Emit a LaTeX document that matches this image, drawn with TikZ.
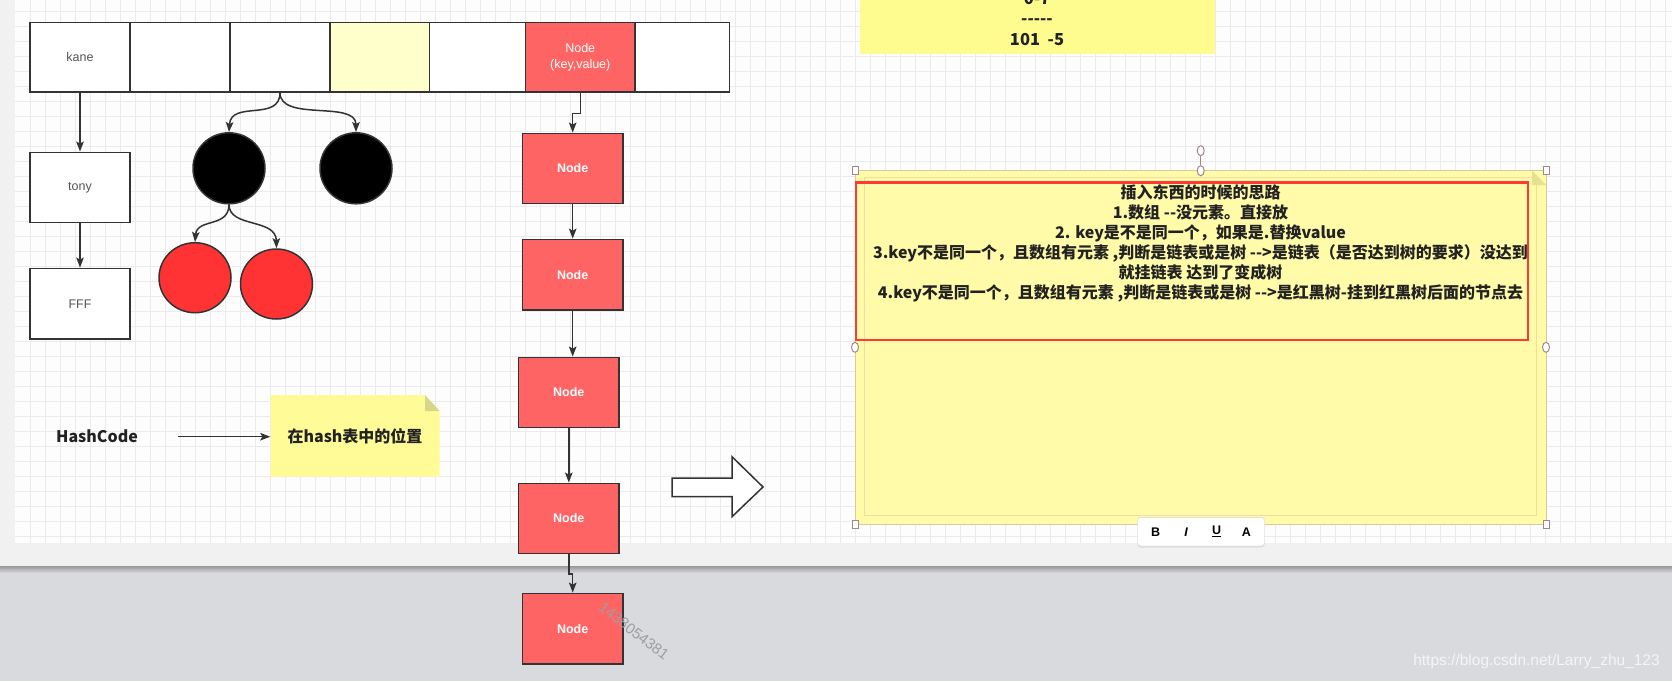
\documentclass[tikz,border=0pt]{standalone}
\usepackage{fontspec}
\setsansfont{Liberation Sans}
\newfontfamily\cjk{Noto Sans CJK SC}
\usetikzlibrary{arrows.meta,shapes.geometric,shadows}
\definecolor{linec}{HTML}{333333}
\definecolor{labelc}{HTML}{555555}
\definecolor{cellyellow}{HTML}{FFFFCC}
\definecolor{nodered}{HTML}{FF6464}
\definecolor{brightred}{HTML}{FF3333}
\definecolor{noteyellow}{HTML}{FFFBA8}
\definecolor{notefold}{HTML}{D8D68A}
\definecolor{noteedge}{HTML}{D9C99B}
\definecolor{noteinner}{HTML}{EEDFA0}
\definecolor{selred}{HTML}{FF3838}
\definecolor{handlec}{HTML}{A08888}
\definecolor{canvasc}{HTML}{FDFDFD}
\definecolor{gridc}{HTML}{EBEBEB}
\definecolor{marginc}{HTML}{F1F1F1}
\definecolor{bgdark}{HTML}{D9DADE}
\definecolor{textc}{HTML}{222222}
\tikzset{
  conn/.style={draw=linec, line width=1.5pt, -{Stealth[length=10pt,width=7.5pt,inset=2pt]}},
  cellbox/.style={draw=linec, line width=1.5pt, fill=white, minimum height=69.3pt, inner sep=0pt,
    font=\sffamily\fontsize{12.5}{15}\selectfont, text=labelc},
  nodebox/.style={draw=linec, line width=1.5pt, fill=nodered, inner sep=0pt,
    font=\sffamily\bfseries\fontsize{12.5}{16}\selectfont, text=white, align=center},
  blackball/.style={ellipse, draw=linec, line width=1.5pt, fill=black, minimum width=72pt, minimum height=71pt, inner sep=0pt},
  redball/.style={ellipse, draw=linec, line width=1.5pt, fill=brightred, minimum width=72pt, minimum height=70pt, inner sep=0pt},
  boldtxt/.style={font=\cjk\bfseries\fontsize{16}{20}\selectfont, text=textc, inner sep=0pt},
  notetxt/.style={font=\cjk\bfseries\fontsize{16}{20}\selectfont, text=textc, align=center, inner sep=0pt},
  handlesq/.style={draw=handlec, line width=1pt, fill=white, minimum width=6pt, minimum height=8pt, inner sep=0pt},
  handlecirc/.style={ellipse, draw=handlec, line width=1pt, fill=white, minimum width=7pt, minimum height=10pt, inner sep=0pt},
  tbletter/.style={font=\sffamily\bfseries\fontsize{12.5}{15}\selectfont, text=black, inner sep=0pt},
}
\begin{document}
\begin{tikzpicture}[x=1pt,y=-1pt]
\useasboundingbox (0,0) rectangle (1672,681);
\clip (0,0) rectangle (1672,681);
% ---------- background ----------
\fill[bgdark] (0,567) rectangle (1672,681);
\fill[marginc] (0,0) rectangle (1672,567);
\shade[top color=black!40, bottom color=bgdark] (0,566) rectangle (1672,573);
\fill[canvasc] (15,0) rectangle (1672,543.3);
\begin{scope}
\clip (15,0) rectangle (1672,543.3);
\foreach \gx in {30,45,...,1670} \draw[gridc, line width=1pt] (\gx,0) -- (\gx,543.3);
\foreach \gy in {11.7,26.7,...,540} \draw[gridc, line width=1pt] (15,\gy) -- (1672,\gy);
\end{scope}

% ---------- array of cells ----------
\node[cellbox, minimum width=100pt] (c1) at (80,57.3) {kane};
\node[cellbox, minimum width=100pt] (c2) at (180,57.3) {};
\node[cellbox, minimum width=100pt] (c3) at (280,57.3) {};
\node[cellbox, minimum width=99.5pt, fill=cellyellow] (c4) at (379.75,57.3) {};
\node[cellbox, minimum width=96pt] (c5) at (477.5,57.3) {};
\node[nodebox, minimum width=109.5pt, minimum height=69.3pt, font=\sffamily\fontsize{12.5}{16.5}\selectfont] (c6) at (580.25,57.3) {Node\\(key,value)};
\node[cellbox, minimum width=94.5pt] (c7) at (682.25,57.3) {};

% ---------- kane chain ----------
\node[cellbox, minimum width=100pt, minimum height=70.4pt] (tony) at (80,187.5) {tony};
\node[cellbox, minimum width=100pt, minimum height=70.7pt] (fff) at (80,303.7) {FFF};
\draw[conn] (c1.south) -- (tony.north);
\draw[conn] (tony.south) -- (fff.north);

% ---------- tree ----------
\node[blackball] (b1) at (229,168.3) {};
\node[blackball] (b2) at (356,168.3) {};
\node[redball] (r1) at (195,277.7) {};
\node[redball] (r2) at (276.5,284) {};
\draw[conn] (c3.south) .. controls (280,122) and (231,100) .. (b1.north);
\draw[conn] (c3.south) .. controls (280,122) and (356,100) .. (b2.north);
\draw[conn] (b1.south) .. controls (229,228) and (197,218) .. (r1.north);
\draw[conn] (b1.south) .. controls (229,228) and (276,218) .. (r2.north);

% ---------- linked list ----------
\node[nodebox, minimum width=100.5pt, minimum height=70pt] (n1) at (572.7,168.3) {Node};
\node[nodebox, minimum width=100.5pt, minimum height=70.7pt] (n2) at (572.7,274.7) {Node};
\node[nodebox, minimum width=100.3pt, minimum height=70.4pt] (n3) at (568.8,392.5) {Node};
\node[nodebox, minimum width=100.3pt, minimum height=70pt] (n4) at (568.8,518.3) {Node};
\node[nodebox, minimum width=100.5pt, minimum height=70.7pt] (n5) at (572.7,628.7) {Node};
\draw[conn] (c6.south) -- ++(0,21) -| (n1.north);
\draw[conn] (n1.south) -- (n2.north);
\draw[conn] (n2.south) -- (n2.south |- n3.north);
\draw[conn] (n3.south) -- (n4.north);
\draw[conn] (n4.south) -- ++(0,20) -| (n5.north);

% ---------- HashCode ----------
\fill[noteyellow!90!yellow] (270.5,395) -- (425,395) -- (439.6,411) -- (439.6,476.7) -- (270.5,476.7) -- cycle;
\fill[notefold] (425,395) -- (425,411) -- (439.6,411) -- cycle;
\node[boldtxt] (hash) at (97,436.7) {HashCode};
\node[boldtxt, minimum width=169pt, minimum height=81.7pt] (pos) at (355,435.8) {在hash表中的位置};
\coordinate (hs) at (178,436.7);
\draw[conn] (hs) -- (hs -| pos.west);

% ---------- big hollow arrow ----------
\draw[linec, line width=1.5pt, fill=white, line join=miter]
  (672,478) -- (732,478) -- (732,456.7) -- (763,487) -- (732,516.7) -- (732,496.7) -- (672,496.7) -- cycle;

% ---------- top note ----------
\fill[noteyellow!85!yellow] (860,-5) rectangle (1214.5,54.3);
\node[notetxt, font=\cjk\bfseries\fontsize{16.5}{20.3}\selectfont] (topnote) at (1037,19) {0-7\\-----\\101\ \ -5};

% ---------- big note ----------
\fill[noteyellow, draw=noteedge, line width=1pt] (855,170.7) rectangle (1546,524.3);
\draw[noteinner, line width=1pt] (864,177.5) rectangle (1536.5,515);
\fill[notefold!70!noteyellow] (1532,170.7) -- (1546,185) -- (1532,185) -- cycle;
\draw[selred, line width=2.6pt] (856,182.3) rectangle (1528,340);
\node[notetxt] (idea) at (1200.5,243) {插入东西的时候的思路\\
1.数组 --没元素。直接放\\
2. key是不是同一个，如果是.替换value\\
3.key不是同一个，且数组有元素 ,判断是链表或是树 -->是链表（是否达到树的要求）没达到\\
就挂链表 达到了变成树\\
4.key不是同一个，且数组有元素 ,判断是链表或是树 -->是红黑树-挂到红黑树后面的节点去};

% ---------- selection handles ----------
\node[handlecirc] (hrot) at (1200.7,150.7) {};
\node[handlecirc] (htop) at (1200.7,170.7) {};
\draw[handlec, line width=1pt] (hrot) -- (htop);
\node[handlesq] (htl) at (855,170.7) {};
\node[handlesq] (htr) at (1546,170.7) {};
\node[handlesq] (hbl) at (855,524.3) {};
\node[handlesq] (hbr) at (1546,524.3) {};
\node[handlecirc] (hl) at (855,347.3) {};
\node[handlecirc] (hr) at (1546,347.3) {};

% ---------- toolbar ----------
\node[draw=black!18, fill=white, rounded corners=3pt, minimum width=127pt, minimum height=28.7pt,
  drop shadow={opacity=0.15, shadow xshift=0pt, shadow yshift=-1.5pt}] (tb) at (1201,531.7) {};
\node[tbletter] (tbB) at (1155.6,531.7) {B};
\node[tbletter, font=\sffamily\bfseries\itshape\fontsize{12.5}{15}\selectfont] (tbI) at (1186,531.7) {I};
\node[tbletter] (tbU) at (1216.7,531.7) {\underline{U}};
\node[tbletter] (tbA) at (1246.4,531.7) {A};

% ---------- watermarks ----------
\node[rotate=-37.6, font=\sffamily\fontsize{15}{15}\selectfont, text=black!38, inner sep=0pt] (wm1) at (634,631) {1438054381};
\node[font=\sffamily\fontsize{15.5}{15.5}\selectfont, text=white!96!black, inner sep=0pt] (wm2) at (1536.5,661.5) {https://blog.csdn.net/Larry\_zhu\_123};
\end{tikzpicture}
\end{document}
